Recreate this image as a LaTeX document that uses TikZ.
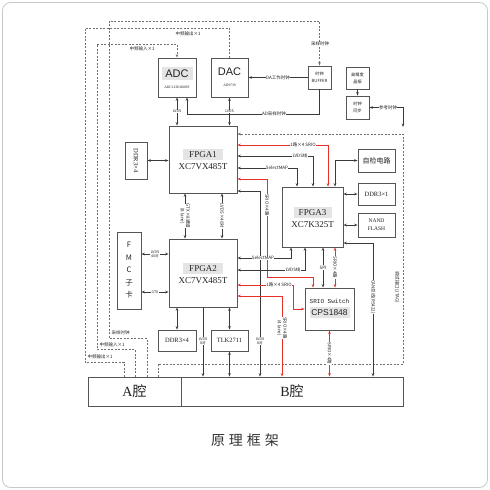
\documentclass[tikz,border=0pt]{standalone}
\usepackage{fontspec}
\setmainfont{Liberation Serif}
\newfontfamily\cjk{Noto Sans CJK SC}
\newfontfamily\lsans{Liberation Sans}
\newfontfamily\lmono{Liberation Mono}
\usetikzlibrary{arrows.meta}
\definecolor{boxc}{HTML}{555555}
\definecolor{linec}{HTML}{3A3A3A}
\definecolor{redc}{HTML}{E8302A}
\definecolor{dashc}{HTML}{707070}
\definecolor{txt}{HTML}{222222}
\definecolor{hl}{HTML}{E4E4E4}
\definecolor{frmc}{HTML}{C8C8C8}
\definecolor{capc}{HTML}{333333}
\newcommand\mytiny{\cjk\fontsize{4.5}{5.5}\selectfont}
\newcommand\hlt[4]{{\setlength{\fboxsep}{0pt}\colorbox{hl}{\makebox[#1pt]{\rule[-#2pt]{0pt}{#3pt}#4}}}}
\tikzset{
  box/.style={draw=boxc, line width=0.9pt, fill=white, inner sep=0pt, align=center, text=txt},
  conn/.style={draw=linec, line width=0.7pt},
  arr/.style={conn, -{Stealth[length=3.4pt,width=2.6pt]}},
  barr/.style={conn, {Stealth[length=3.4pt,width=2.6pt]}-{Stealth[length=3.4pt,width=2.6pt]}},
  dsh/.style={draw=dashc, line width=0.7pt, dash pattern=on 2pt off 1.5pt},
  lbl/.style={font=\mytiny, fill=white, inner sep=0.4pt, text=txt, align=center},
  lblsm/.style={lbl, font=\cjk\fontsize{3.6}{4.4}\selectfont},
  lbltxt/.style={font=\mytiny, inner sep=0.4pt, text=txt, align=center}
}
\begin{document}
\begin{tikzpicture}[x=1pt,y=-1pt]
\useasboundingbox (0,0) rectangle (490,490);
\draw[frmc, line width=0.8pt, rounded corners=8pt] (2.5,2.5) rectangle (487.5,487.5);

% ---------- boxes ----------
\node[box, minimum width=38pt, minimum height=39pt] (adc) at (177,77.5)
  {\lsans\fontsize{11}{11}\selectfont\hlt{31}{2.5}{13}{ADC}\\[-1pt]\fontsize{3.6}{4}\selectfont ADC12D1600RF};
\node[box, minimum width=37pt, minimum height=39pt] (dac) at (229.5,77.5)
  {\lsans\fontsize{11}{11}\selectfont DAC\\[-1pt]\fontsize{3.6}{4}\selectfont AD9739};
\node[box, minimum width=23pt, minimum height=23pt, font=\cjk\fontsize{4.2}{7}\selectfont] (buf) at (319.5,77.5) {时钟\\BUFFER};
\node[box, minimum width=23pt, minimum height=22pt, font=\cjk\fontsize{4.2}{7}\selectfont] (osc) at (357.5,78) {高精度\\晶振};
\node[box, minimum width=23pt, minimum height=23pt, font=\cjk\fontsize{4.2}{7}\selectfont] (sync) at (357.5,107.5) {时钟\\同步};

\node[box, minimum width=68pt, minimum height=67pt, font=\fontsize{9}{12}\selectfont] (fpga1) at (203,159.5)
  {\hlt{40}{2.5}{11}{FPGA1}\\XC7VX485T};
\node[box, minimum width=22pt, minimum height=37pt] (ddrL) at (136,160.5) {};
\node[rotate=-90, font=\fontsize{6.5}{7}\selectfont, text=txt, inner sep=0pt] (ddrLt) at (ddrL.center) {DDR3×4};

\node[box, minimum width=68pt, minimum height=68pt, font=\fontsize{9}{12}\selectfont] (fpga2) at (203,273)
  {\hlt{40}{2.5}{11}{FPGA2}\\XC7VX485T};
\node[box, minimum width=24pt, minimum height=77pt, font=\cjk\fontsize{7.5}{12.5}\selectfont] (fmc) at (129,270.5) {F\\M\\C\\子\\卡};
\node[box, minimum width=38pt, minimum height=21pt, font=\fontsize{6.5}{7}\selectfont] (ddrB) at (177,340.5) {DDR3×4};
\node[box, minimum width=37pt, minimum height=21pt, font=\fontsize{6.5}{7}\selectfont] (tlk) at (229.5,340.5) {TLK2711};

\node[box, minimum width=61pt, minimum height=60pt, font=\fontsize{9}{12}\selectfont] (fpga3) at (312.5,217)
  {\hlt{38}{2.5}{11}{FPGA3}\\XC7K325T};
\node[box, minimum width=37pt, minimum height=23pt, font=\cjk\fontsize{7}{8}\selectfont] (zijian) at (376.5,160.5) {自检电路};
\node[box, minimum width=37pt, minimum height=22pt, font=\fontsize{6.5}{7}\selectfont] (ddr1) at (376.5,194) {DDR3×1};
\node[box, minimum width=37pt, minimum height=24pt, font=\fontsize{5.5}{8}\selectfont] (nand) at (376.5,225) {NAND\\FLASH};
\node[box, minimum width=49pt, minimum height=42pt] (srio) at (329.5,309)
  {\lmono\fontsize{6}{9}\selectfont SRIO Switch\\\lsans\fontsize{8.5}{11}\selectfont\hlt{40}{2.5}{11}{CPS1848}};

\node[box, minimum width=93pt, minimum height=29pt, font=\fontsize{14}{16}\selectfont] (acav) at (134.5,391.5) {A{\cjk 腔}};
\node[box, minimum width=222pt, minimum height=29pt, font=\fontsize{14}{16}\selectfont] (bcav) at (292,391.5) {B{\cjk 腔}};

\node[font=\cjk\fontsize{14}{14}\selectfont, text=capc] (cap) at (245,440) {原\hspace{4pt}理\hspace{4pt}框\hspace{4pt}架};

% ---------- ADC / DAC / clocks ----------
\draw[barr] (adc.south) -- (adc.south |- fpga1.north) node[lblsm, midway] {LVDS};
\draw[barr] (dac.south) -- (dac.south |- fpga1.north) node[lblsm, midway] {LVDS};
\draw[arr] (buf.west) -- (dac.east) node[lbl, midway] {DA工作时钟};
\coordinate (adck) at (187,114);
\draw[arr] (buf.south) |- (adck) -- ([xshift=10pt]adc.south);
\node[lbl] (adckl) at (274,114) {AD采样时钟};
\draw[arr] (osc.south) -- (sync.north);
\coordinate (refc) at (403,127);
\draw[barr] (sync.east) -| (refc);
\node[lbl] (refl) at (388,107.5) {参考时钟};

% ---------- dashed external signals ----------
\coordinate (c1) at (109,21);
\coordinate (c2) at (97,44);
\coordinate (c3) at (85,28);
\draw[dsh, -{Stealth[length=3.4pt,width=2.6pt]}] ([xshift=12.5pt]acav.north) -- ++(0,-38) -| (c1) -| (buf.north);
\draw[dsh, -{Stealth[length=3.4pt,width=2.6pt]}] ([xshift=0.5pt]acav.north) -- ++(0,-27) -| (c2) -| (adc.north);
\draw[dsh] ([xshift=-10.5pt]acav.north) -- ++(0,-14) -| (c3) -| (dac.north);
\node[lbl] (t1) at (320,44) {采样时钟};
\node[lbltxt] (t2) at (188,34) {中频输出×1};
\node[lbltxt] (t3) at (142,49) {中频输入×1};
\node[lbltxt, anchor=west] (t4) at (111,333) {采样时钟};
\node[lbltxt, anchor=west] (t5) at (99,345) {中频输入×1};
\node[lbltxt, anchor=west] (t6) at (87,357) {中频输出×1};

% ---------- B cavity dashed region ----------
\coordinate (d0) at (158,364);
\coordinate (d1) at (403,364);
\draw[dsh, -{Stealth[length=3.4pt,width=2.6pt]}] ([xshift=23.5pt]acav.north) -- (d0) -- (d1) |- ([yshift=25.5pt]fpga1.east);
\node[lbltxt, rotate=-90] (t7) at (397,287) {调试接口(JTAG)};

% ---------- FPGA1 ----------
\draw[barr] (ddrL.east) -- (ddrL.east -| fpga1.west);
\draw[barr, draw=redc] ([yshift=14.5pt]fpga1.east) -| ([xshift=15.5pt]fpga3.north);
\node[lbl] (l1) at (303,145) {1路×4 SRIO};
\draw[barr] ([yshift=3.5pt]fpga1.east) -| ([xshift=0.5pt]fpga3.north);
\node[lbl] (l2) at (300,156) {LVDS线};
\draw[barr] ([yshift=-8.5pt]fpga1.east) -| ([xshift=-15.5pt]fpga3.north);
\node[lbl] (l3) at (277,168) {SelectMAP};
\coordinate (r1) at (267,277);
\draw[barr, draw=redc] ([yshift=-19.5pt]fpga1.east) -| (r1) -| ([xshift=-16.5pt]srio.north);
\node[lbl, rotate=-90] (l4) at (267,205) {SRIO×4路};
\draw[barr] ([yshift=-31.5pt]fpga1.east) -| ([xshift=-32pt]bcav.north);
\node[lblsm] (l5) at (260,341) {LVDS\\8对};

\draw[barr] ([xshift=-18pt]fpga1.south) -- ([xshift=-18pt]fpga2.north) node[lbl, midway, rotate=-90] {GTX×8通道\\(8 lane)};
\draw[barr] ([xshift=19pt]fpga1.south) -- ([xshift=19pt]fpga2.north) node[lbl, midway, rotate=-90] {LVDS×40对};

% ---------- FPGA2 ----------
\draw[barr] ([yshift=16.5pt]fmc.east) -- ([yshift=19pt]fpga2.west) node[lblsm, midway] {LVDS\\40对};
\draw[barr] ([yshift=-21.5pt]fmc.east) -- ([yshift=-19pt]fpga2.west) node[lblsm, midway] {GTX};
\draw[barr] ([xshift=-21.5pt]fpga3.south) |- ([yshift=15pt]fpga2.east);
\node[lbl] (l6) at (263,258) {SelectMAP};
\draw[barr] ([xshift=-7.5pt]fpga3.south) |- ([yshift=3pt]fpga2.east);
\node[lbl] (l7) at (293,270) {LVDS线};
\coordinate (r2) at (293,309);
\draw[barr, draw=redc] ([yshift=-12pt]fpga2.east) -| (r2) -- (srio.west);
\node[lbl] (l8) at (279,285) {1路×4 SRIO};
\draw[barr, draw=redc] ([yshift=-23pt]fpga2.east) -| ([xshift=-10pt]bcav.north);
\node[lbl, rotate=-90] (l9) at (282,328) {SRIO×4路\\(4 lane)};

\draw[barr] ([xshift=-26pt]fpga2.south) -- (ddrB.north);
\draw[arr] (fpga2.south) -- (fpga2.south |- bcav.north);
\node[lblsm] (l10) at (203,341) {LVDS\\8对};
\draw[barr] (tlk.north) -- (tlk.north |- fpga2.south);
\draw[barr] (tlk.south) -- (tlk.south |- bcav.north);

% ---------- FPGA3 ----------
\draw[barr] ([xshift=10.5pt]fpga3.south) -- ([xshift=-6.5pt]srio.north) node[lbl, midway] {SPI};
\draw[barr, draw=redc] ([xshift=22.5pt]fpga3.south) -- ([xshift=5.5pt]srio.north) node[lbl, midway, rotate=-90] {SRIO×4路};
\draw[barr] ([xshift=22.5pt]fpga3.north) |- (zijian.west);
\draw[barr] (ddr1.west) -- (ddr1.west -| fpga3.east);
\draw[barr] (nand.west) -- (nand.west -| fpga3.east);
\draw[barr] ([yshift=-26pt]fpga3.east) -| ([xshift=81pt]bcav.north);
\node[lbl, rotate=-90] (l11) at (373,297) {CAN总线(RS422)};
\draw[barr, draw=redc] (srio.south) -- (srio.south |- bcav.north) node[lbl, midway, rotate=-90] {SRIO×4路};
\end{tikzpicture}
\end{document}
